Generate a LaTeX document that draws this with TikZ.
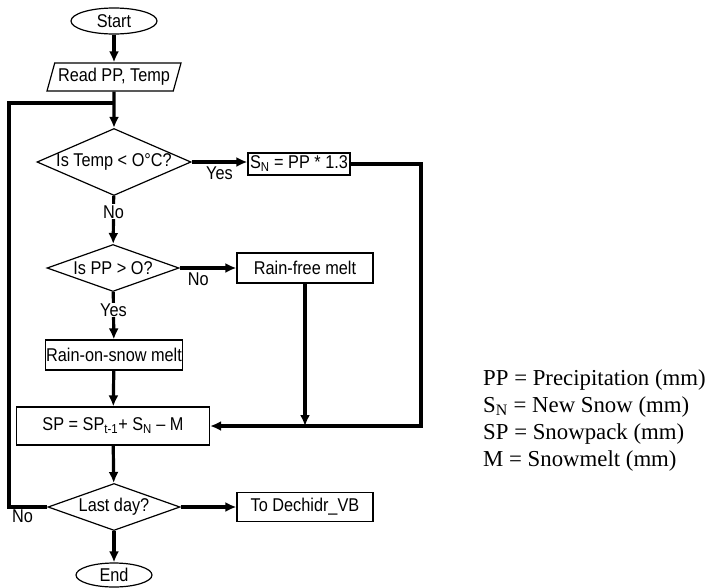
\documentclass[tikz,border=0pt]{standalone}
\usepackage{fontspec}
\setmainfont{Liberation Serif}
\setsansfont{Liberation Sans}[FakeStretch=0.88]
\usetikzlibrary{shapes.geometric,arrows.meta}

\begin{document}
\begin{tikzpicture}[x=1pt,y=-1pt,
    font=\sffamily\fontsize{18.5}{21}\selectfont,
    >={Latex[length=11pt,width=10pt]},
    box/.style={draw,line width=1.2pt,inner sep=2pt},
    terminal/.style={box,ellipse,inner sep=0pt},
    process/.style={box,rectangle},
    decision/.style={box,diamond,inner sep=0pt},
    io/.style={box,trapezium,trapezium left angle=70,trapezium right angle=110,trapezium stretches body},
    flow/.style={line width=3.2pt},
    lbl/.style={fill=white,inner sep=1pt},
    legend/.style={anchor=base west,inner sep=0pt,font=\rmfamily\fontsize{22.8}{27}\selectfont}]
  \useasboundingbox (0,0) rectangle (709,587);

  \node (start) at (114,21) [terminal,minimum width=86pt,minimum height=26pt] {Start};
  \node (read) at (114,77) [io,minimum width=134pt,minimum height=28pt] {Read PP, Temp};
  \node (tempq) at (114,162) [decision,aspect=2.3,minimum width=153pt,minimum height=67pt] {Is Temp < O°C?};
  \node (newsnow) at (299,164) [process,minimum width=102pt,minimum height=22pt,inner sep=1pt] {S\textsubscript{N} = PP * 1.3};
  \node (ppq) at (113,268) [decision,aspect=2.8,minimum width=132pt,minimum height=47pt] {Is PP > O?};
  \node (rainfree) at (305,268) [process,minimum width=136pt,minimum height=30pt] {Rain-free melt};
  \node (rainsnow) at (114,355) [process,minimum width=134pt,minimum height=30pt,inner sep=1pt] {Rain-on-snow melt};
  \node (pack) at (113,426) [process,minimum width=193pt,minimum height=38pt] {SP = SP\textsubscript{t-1}+ S\textsubscript{N} – M};
  \node (lastq) at (114,507) [decision,aspect=2.8,minimum width=132pt,minimum height=47pt] {Last day?};
  \node (todech) at (305,507) [process,minimum width=136pt,minimum height=29pt] {To Dechidr\_VB};
  \node (end) at (114,575) [terminal,minimum width=76pt,minimum height=24pt] {End};

  \coordinate (join) at (114,103);
  \coordinate (loop) at (9,507);
  \coordinate (corner) at (421,426);

  \draw[flow,->] (start) -- (read);
  \draw[flow,->] (read) -- (tempq);
  \draw[flow,->] (tempq.east) -- (tempq.east -| newsnow.west) node[midway,below] {Yes};
  \draw[flow,->] (tempq) -- (ppq) node[pos=0.33,lbl] {No};
  \draw[flow,->] (ppq) -- (rainfree) node[pos=0.33,below] {No};
  \draw[flow,->] (ppq) -- (rainsnow) node[pos=0.38,lbl] {Yes};
  \draw[flow,->] (rainsnow) -- (pack);
  \draw[flow,->] (newsnow.east) -| (corner) -- (pack.east);
  \draw[flow,->] (rainfree.south) -- (rainfree.south |- pack.east);
  \draw[flow,->] (pack) -- (lastq);
  \draw[flow,->] (lastq) -- (todech);
  \draw[flow,->] (lastq) -- (end);
  \draw[flow] (lastq.west) -- (loop) |- (join);
  \node (no) at (loop) [anchor=north west,inner sep=3pt] {No};

  \node (l1) at (483,385) [legend] {PP = Precipitation (mm)};
  \node (l2) at (483,412) [legend] {S\textsubscript{N} = New Snow (mm)};
  \node (l3) at (483,439) [legend] {SP = Snowpack (mm)};
  \node (l4) at (483,466) [legend] {M = Snowmelt (mm)};
\end{tikzpicture}
\end{document}
